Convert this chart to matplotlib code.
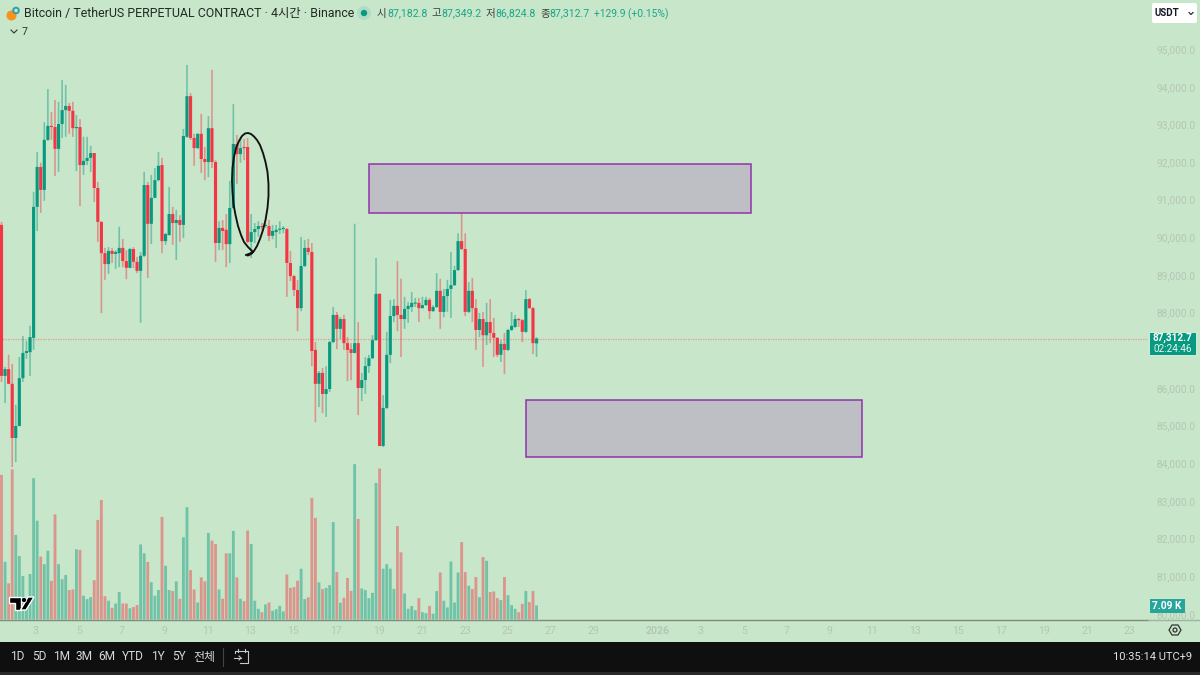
import matplotlib
matplotlib.use("Agg")
import matplotlib.pyplot as plt
from matplotlib.patches import Rectangle, Circle, FancyBboxPatch, Polygon

plt.rcParams['font.family'] = ['Roboto', 'Noto Sans CJK KR', 'DejaVu Sans']

opens = [90330, 86320, 86500, 86110, 84670, 84990, 86260, 86930, 86950, 87330,
         90810, 91870, 91260, 92590, 92960, 92930, 92350, 93010, 93380, 93490,
         93360, 92900, 92930, 91920, 92030, 92110, 92240, 91310, 90410, 89580,
         89290, 89640, 89560, 89580, 89720, 89370, 89190, 89690, 89350, 89110,
         89510, 91390, 90360, 91050, 91520, 91920, 89900, 90060, 90620, 90380,
         90460, 90330, 92670, 93750, 92640, 92370, 92750, 92080, 92000, 92900,
         92000, 89850, 90250, 90200, 89820, 90780, 92480, 92210, 92400, 92400,
         89880, 90140, 90220, 90300, 90300, 90300, 90040, 90140, 90200, 90220,
         90220, 89320, 88970, 88600, 88120, 89240, 89720, 89610, 87010, 86110,
         86400, 85840, 85970, 87220, 87940, 87570, 87830, 87190, 87030, 86930,
         87190, 86000, 86210, 86580, 86790, 87270, 88500, 84460, 85470, 86880,
         87910, 88180, 87940, 87830, 88100, 88150, 88240, 88260, 88120, 88200,
         88340, 88040, 88150, 88580, 88020, 88440, 88630, 88730, 89130, 89900,
         89690, 88020, 88580, 88120, 87540, 87830, 87400, 87750, 87460, 87330,
         86880, 87170, 87010, 87540, 87620, 87830, 87800, 87490, 88360, 88120,
         87183]
closes = [86320, 86500, 86110, 84670, 84990, 86260, 86930, 86980, 87350, 90810,
          91870, 91260, 92590, 92960, 92930, 92350, 93010, 93380, 93490, 93360,
          92900, 92930, 91920, 92030, 92110, 92240, 91310, 90410, 89580, 89290,
          89640, 89560, 89610, 89720, 89370, 89190, 89690, 89350, 89110, 89510,
          91390, 90360, 91050, 91520, 91900, 89900, 90090, 90620, 90380, 90460,
          90330, 92690, 93750, 92640, 92370, 92750, 92080, 92000, 92900, 92000,
          89850, 90250, 90170, 89820, 90780, 92480, 92210, 92370, 92370, 89880,
          90140, 90220, 90300, 90270, 90330, 90040, 90170, 90200, 90220, 90250,
          89320, 88970, 88600, 88120, 89240, 89720, 89610, 86980, 86110, 86400,
          85840, 85970, 87220, 87940, 87570, 87830, 87190, 87010, 86930, 87190,
          86000, 86210, 86580, 86790, 87270, 88500, 84460, 85470, 86880, 87910,
          88180, 87940, 87830, 88100, 88180, 88260, 88260, 88120, 88200, 88340,
          88040, 88150, 88580, 88020, 88440, 88630, 88730, 89130, 89900, 89690,
          88020, 88580, 88120, 87540, 87830, 87400, 87750, 87460, 87330, 86880,
          87170, 87010, 87540, 87650, 87830, 87800, 87490, 88360, 88120, 87190,
          87313]
highs = [90410, 86560, 86880, 86640, 85550, 86820, 87380, 87250, 87650, 91210,
         92270, 91980, 93060, 93940, 93330, 93650, 93600, 94180, 94050, 93570,
         93600, 93250, 93140, 92670, 92670, 92430, 92240, 91470, 90430, 89720,
         89740, 89720, 89660, 90280, 89960, 89660, 89720, 89740, 89480, 89610,
         91740, 91470, 91660, 91840, 92270, 92110, 90120, 91340, 90810, 90730,
         90590, 92880, 94580, 93830, 92750, 92760, 93280, 92400, 93220, 94450,
         92050, 90430, 90460, 90620, 91500, 93540, 92720, 92670, 92610, 92640,
         90620, 90380, 90430, 90380, 90380, 90460, 90330, 90330, 90430, 90300,
         90250, 89640, 89000, 88870, 90010, 89930, 89960, 89850, 87220, 86450,
         86530, 86580, 87250, 88150, 88020, 87880, 87940, 87350, 87190, 90360,
         87750, 86400, 86820, 86880, 87400, 89450, 88510, 85810, 87490, 88340,
         88360, 89370, 88900, 88420, 88280, 88550, 88390, 88390, 88420, 88420,
         88390, 88200, 89050, 88900, 88630, 88870, 89610, 89240, 90110, 90650,
         90110, 88810, 88920, 88360, 87990, 88020, 88260, 88360, 87860, 87350,
         87270, 87460, 87570, 88020, 87940, 87860, 87830, 88600, 88390, 88150,
         87349]
lows = [86160, 85600, 86100, 83900, 84030, 84980, 86160, 86770, 86320, 87010,
        90170, 90650, 90970, 92560, 92590, 91630, 91740, 92640, 92670, 92750,
        92670, 91760, 90830, 91660, 91920, 91740, 90940, 89880, 87990, 88870,
        89030, 89320, 89160, 89210, 89210, 88890, 89180, 89180, 89050, 87730,
        89480, 88920, 89820, 91040, 91490, 89580, 89800, 90050, 89800, 89400,
        89880, 89980, 92640, 92590, 91900, 92350, 91710, 91520, 91600, 91840,
        89350, 89660, 89660, 89210, 89320, 90750, 91420, 91980, 92050, 89850,
        89450, 89850, 90010, 90190, 90250, 89900, 89950, 89720, 90090, 90110,
        88420, 88840, 88440, 87510, 88040, 89210, 89530, 86580, 85090, 85490,
        85330, 85230, 85890, 87190, 87030, 87300, 87010, 86180, 86210, 86920,
        85280, 85650, 85840, 86400, 86770, 87250, 84450, 84430, 85440, 86660,
        87750, 87510, 86820, 87570, 87730, 88020, 88150, 87750, 88110, 88180,
        87830, 88020, 88120, 87570, 87880, 88020, 87860, 88710, 89110, 89660,
        87910, 87990, 87750, 87010, 87350, 86560, 87140, 87190, 86820, 86820,
        86690, 86370, 86980, 87510, 87590, 87620, 87220, 87460, 88100, 86900,
        86825]
# volume in thousands
volumes = [73.2, 29.2, 18.3, 76.0, 42.8, 32.1, 22.0, 8.0, 23.0, 71.5,
           50.0, 31.8, 28.0, 34.8, 19.6, 53.2, 28.0, 20.4, 22.5, 14.9,
           15.2, 35.5, 35.2, 12.0, 10.3, 11.3, 19.9, 50.4, 60.5, 11.8,
           9.5, 5.9, 8.1, 13.9, 8.1, 8.1, 5.7, 6.3, 7.3, 38.0,
           33.5, 29.1, 18.9, 12.0, 14.9, 51.9, 27.2, 14.9, 14.4, 19.3,
           10.5, 41.6, 56.8, 25.0, 15.2, 8.6, 21.3, 19.3, 43.8, 39.9,
           38.2, 15.2, 10.5, 33.5, 33.5, 44.8, 21.3, 10.5, 9.3, 45.0,
           38.2, 9.5, 5.4, 3.7, 7.6, 8.6, 4.4, 5.2, 6.9, 4.1,
           22.8, 16.0, 16.4, 19.6, 25.7, 10.3, 11.2, 61.5, 51.4, 18.8,
           15.4, 16.0, 17.4, 49.3, 24.0, 8.5, 11.0, 21.0, 14.5, 78.6,
           50.9, 15.7, 14.9, 10.8, 13.5, 69.1, 76.4, 25.7, 28.0, 25.7,
           15.5, 47.3, 34.0, 13.2, 5.4, 6.8, 4.7, 10.8, 3.7, 3.2,
           6.9, 2.9, 14.4, 23.8, 9.5, 6.1, 29.4, 8.6, 23.8, 39.2,
           24.0, 17.1, 15.4, 21.5, 11.3, 31.6, 29.7, 13.9, 14.2, 10.8,
           9.8, 21.5, 12.3, 7.3, 5.4, 3.7, 7.9, 14.4, 8.8, 14.4,
           7.09]
# 87,000 sits under the last price label in the reference
price_ticks = [80000, 81000, 82000, 83000, 84000, 85000, 86000, 88000,
               89000, 90000, 91000, 92000, 93000, 94000, 95000]
date_labels = ['3', '5', '7', '9', '11', '13', '15', '17', '19', '21', '23', '25',
               '27', '29', '2026', '3', '5', '7', '9', '11', '13', '15', '17',
               '19', '21', '23']
date_days = [0, 2, 4, 6, 8, 10, 12, 14, 16, 18, 20, 22,
             24, 26, 29, 31, 33, 35, 37, 39, 41, 43, 45,
             47, 49, 51]
last_price = 87312.7
range_buttons = [('1D', 17.5), ('5D', 39), ('1M', 61.5), ('3M', 84), ('6M', 107),
                 ('YTD', 133), ('1Y', 158), ('5Y', 179), ('전체', 204)]

BG = '#c8e6c9'
UP = '#089981'
DOWN = '#f23645'
FAINT = '#b4c6b6'

fig = plt.figure(figsize=(12, 6.75), dpi=100, facecolor=BG)

# everything below the time axis and the chrome lives in pixel coordinates
ui = fig.add_axes([0, 0, 1, 1], zorder=5)
ui.set_xlim(0, 1200)
ui.set_ylim(675, 0)
ui.axis('off')
ui.patch.set_alpha(0)

plot_rect = [0, 1 - 619.5 / 675, 1148 / 1200, 619.5 / 675]
ax = fig.add_axes(plot_rect, zorder=2)
xs = list(range(len(opens)))
ax.set_xlim(-0.42, (1148 - 1.5) / 3.567)
ax.set_ylim(96304 - 619.5 * 26.56, 96304)

colors = [UP if c >= o else DOWN for o, c in zip(opens, closes)]
wicks = ax.vlines(xs, lows, highs, colors=colors, lw=1.2, alpha=0.45, zorder=3)
wicks.set_snap(False)
body_low = [min(o, c) for o, c in zip(opens, closes)]
body_h = [max(abs(c - o), 30) for o, c in zip(opens, closes)]
bodies = ax.bar(xs, body_h, bottom=body_low, width=0.88, color=colors, lw=0, zorder=4)
for b in bodies:
    b.set_snap(False)

ax.axhline(last_price, color='#f0807a', lw=0.9, ls=(0, (1, 1)), alpha=0.75, zorder=2)

# trading zones
ax.add_patch(Rectangle(((369 - 1.5) / 3.567, 96304 - 213 * 26.56), 382 / 3.567, 49 * 26.56,
                       fc='#bdbfc4', ec='#9232ad', lw=1.1, zorder=5))
ax.add_patch(Rectangle(((526 - 1.5) / 3.567, 96304 - 457 * 26.56), 336 / 3.567, 57 * 26.56,
                       fc='#bdbfc4', ec='#9232ad', lw=1.1, zorder=5))

for side in ['top', 'left', 'right']:
    ax.spines[side].set_visible(False)
ax.spines['bottom'].set_color('#7c8c7e')
ax.spines['bottom'].set_linewidth(1.0)
ui.plot([1148, 1200], [619.5, 619.5], color='#9fb3a2', lw=1.0, zorder=1)

ax.yaxis.tick_right()
ax.set_yticks(price_ticks)
ax.set_yticklabels(['{:,.1f}'.format(p) for p in price_ticks])
ax.tick_params(axis='y', length=0, pad=6, labelsize=7.3, labelcolor=FAINT)
ax.set_xticks([9.67 + 6.013 * d for d in date_days])
ax.set_xticklabels(date_labels)
ax.tick_params(axis='x', length=0, pad=4.5, labelsize=7.6, labelcolor=FAINT)
ax.get_xticklabels()[14].set_fontweight('bold')

vol = fig.add_axes(plot_rect, zorder=1.5, sharex=ax)
vol.set_ylim(0, 619.5 * 0.506)
vol.axis('off')
vol_bars = vol.bar(xs, volumes, width=0.8, color=colors, alpha=0.45, lw=0)
for b in vol_bars:
    b.set_snap(False)
ax.patch.set_alpha(0)
vol.patch.set_alpha(0)

# hand drawn circle
circle_x = [246, 250, 253, 248, 244, 241, 238, 235.5, 233.5, 232.5, 232, 232.5, 234, 236, 239,
            242, 245, 248, 251, 254, 257, 260, 263, 265.5, 267.5, 268.5, 268.5, 267.5, 265.5,
            263, 260, 257, 254, 251, 248]
circle_y = [255, 253.5, 252, 247, 242, 235, 226, 215, 204, 192, 180, 168, 157, 148, 141,
            136, 133.5, 133, 134, 136.5, 140, 145, 153, 162, 172, 184, 196, 208, 220,
            230, 239, 246, 251, 254, 255.5]
ui.plot(circle_x, circle_y, color='#111111', lw=1.35, solid_joinstyle='round', zorder=6)

# last price + volume labels
ui.add_patch(FancyBboxPatch((1149.5, 332.5), 47, 23, boxstyle='round,pad=0,rounding_size=1',
                            fc=UP, ec='#e3f2e4', lw=0.6))
ui.text(1192, 338, '87,312.7', color='white', fontsize=7.2, fontweight='bold', ha='right', va='center')
ui.text(1192, 349, '02:24:46', color='#e6f5ef', fontsize=7.2, ha='right', va='center')
ui.add_patch(Rectangle((1149.5, 599), 35.5, 14, fc='#26a69a', ec='none'))
ui.text(1181, 606, '7.09 K', color='white', fontsize=7.4, fontweight='bold', ha='right', va='center')

# header
ui.add_patch(Circle((11.5, 15.5), 5, fc='#f7931a', ec='none'))
ui.add_patch(Circle((16, 10.5), 3.8, fc='#2f9fb0', ec='none'))
ui.add_patch(Circle((16, 10.5), 1.8, fc=BG, ec='none'))
ui.text(24, 13.5, 'Bitcoin / TetherUS PERPETUAL CONTRACT · 4시간 · Binance', fontsize=8.9,
        color='#222a26', va='center')
ui.add_patch(Circle((364, 13), 7, fc='#b2dcc6', ec='none'))
ui.add_patch(Circle((364, 13), 3.2, fc=UP, ec='none'))
for lab, lx, value, vx in [('시', 377, '87,182.8', 387), ('고', 431.5, '87,349.2', 441),
                           ('저', 486, '86,824.8', 495.5), ('종', 540, '87,312.7', 549)]:
    ui.text(lx, 13.5, lab, fontsize=7.6, color='#3a423d', va='center')
    ui.text(vx, 13.5, value, fontsize=7.6, color='#1aa58a', va='center')
ui.text(594.5, 14, '+129.9 (+0.15%)', fontsize=7.4, color='#1aa58a', va='center')
ui.plot([11, 14, 17], [30, 33, 30], color='#333333', lw=0.8)
ui.text(21.5, 32, '7', fontsize=7.6, color='#333333', va='center')

# currency box
ui.add_patch(FancyBboxPatch((1152, 3), 45, 20, boxstyle='round,pad=0,rounding_size=2',
                            fc='white', ec='none'))
ui.text(1154.5, 13.5, 'USDT', fontsize=7.0, fontweight='bold', color='#131722', va='center')
ui.plot([1189, 1191, 1193], [12.5, 14.5, 12.5], color='#131722', lw=0.8)

# logo
logo = [[(9, 597), (21, 597), (21, 610), (15, 610), (15, 603), (9, 603)]]
logo += [[(26, 610), (20.5, 610), (28, 597), (34, 597)]]
for pts in logo:
    ui.add_patch(Polygon(pts, closed=True, fc='black', ec='white', lw=1.0, zorder=4))
ui.add_patch(Circle((24, 600), 2.6, fc='black', ec='white', lw=0.6, zorder=4))

# settings icon
ui.add_patch(Polygon([(1169, 630), (1172, 625), (1178, 625), (1181, 630), (1178, 635), (1172, 635)],
                     closed=True, fc='none', ec='#333333', lw=0.9))
ui.add_patch(Circle((1175, 630), 2, fc='none', ec='#333333', lw=0.9))

# bottom bar
ui.add_patch(Rectangle((0, 641.5), 1200, 31, fc='#0f0f0f', ec='none', zorder=3))
ui.add_patch(Rectangle((0, 672), 1200, 3, fc='#2a2a2a', ec='none', zorder=3))
for lab, bx in range_buttons:
    ui.text(bx, 657, lab, fontsize=8.6, color='#d8d8d8', ha='center', va='center', zorder=4)
ui.plot([223, 223], [648, 666], color='#444444', lw=0.8, zorder=4)
ui.plot([235, 235, 248, 248, 240], [653, 651, 651, 663, 663], color='#c8c8c8', lw=0.8, zorder=4)
ui.plot([234, 241], [658, 658], color='#c8c8c8', lw=0.8, zorder=4)
ui.plot([239, 241, 239], [656, 658, 660], color='#c8c8c8', lw=0.8, zorder=4)
ui.plot([238, 238], [649, 652], color='#c8c8c8', lw=0.8, zorder=4)
ui.plot([245, 245], [649, 652], color='#c8c8c8', lw=0.8, zorder=4)
ui.text(1192, 657, '10:35:14 UTC+9', fontsize=8, color='#e2e2e2', ha='right', va='center', zorder=4)

fig.savefig('out.png', dpi=100, facecolor=BG)
